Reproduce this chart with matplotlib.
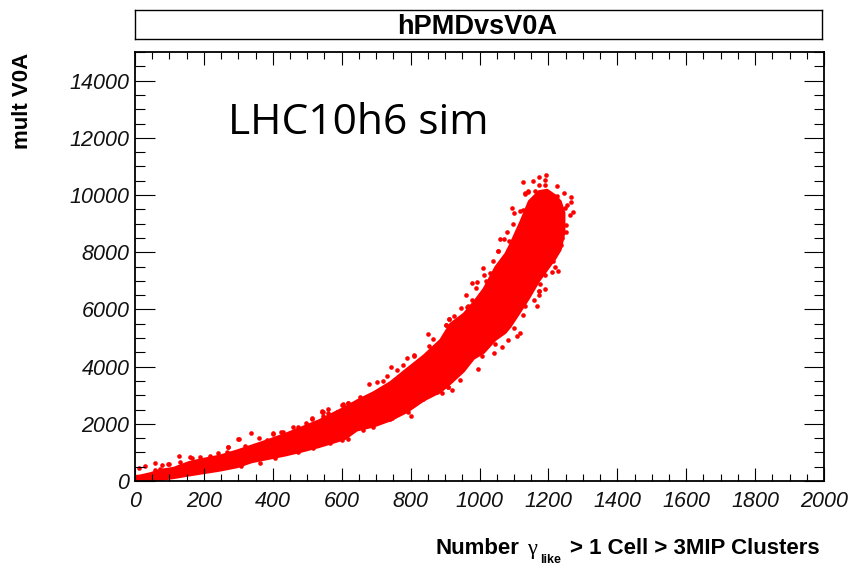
#!/usr/bin/env python3
"""hPMDvsV0A: V0A multiplicity against photon-like PMD clusters"""

import matplotlib
matplotlib.use('Agg')
import matplotlib.pyplot as plt
from matplotlib import font_manager as fm
from matplotlib.font_manager import FontProperties
from matplotlib.ticker import MultipleLocator

plt.rcParams['font.family'] = ['Liberation Sans', 'DejaVu Sans']

# Dense part of the cloud
band_x = [0, 14, 44, 73, 111, 155, 198, 247, 295, 338, 387, 435, 484, 532, 580, 609, 643, 692, 740, 788,
          837, 885, 914, 953, 982, 1011, 1045, 1074, 1088, 1118, 1142, 1171, 1195, 1219, 1234, 1245]
band_low = [0, 0, 30, 58, 120, 210, 292, 385, 500, 677, 793, 910, 1050, 1202, 1377, 1493, 1785, 1925, 2135, 2427,
            2835, 3127, 3418, 3850, 4293, 4500, 4950, 5200, 5402, 5950, 6400, 7000, 7400, 7800, 8100, 8700]
band_high = [190, 210, 292, 408, 478, 677, 793, 910, 1085, 1260, 1458, 1668, 1902, 2135, 2427, 2602, 2835, 3127, 3477, 3943,
             4410, 4950, 5518, 5868, 6277, 6743, 7502, 7968, 8300, 9100, 9800, 10150, 10200, 10000, 9800, 9400]

# Stray points along the edge of the cloud
edge_x = [1194, 1174, 1127, 1154, 1173, 1189, 1224, 1190, 1246, 1267, 1267, 1253, 1248, 1272,
          1263, 1250, 1251, 1239, 1239, 1236, 1224, 1219, 1228, 1209, 1190, 1176, 1190, 1174,
          1174, 1158, 1166, 1127, 1100, 1093, 1100, 1118, 1132, 1142, 1060, 1072, 1087, 1079,
          1096, 1055, 1040, 1009, 1014, 992, 977, 989, 961, 946, 912, 903,
          680, 703, 721, 743, 761, 790, 811, 851, 866, 912, 963, 997, 943, 919, 910, 800, 793,
          692, 745, 561, 542, 605, 619,
          336, 302, 129, 131, 29, 13, 58, 77, 99, 271, 429, 402, 513, 547, 561, 605, 619, 160, 619,
          73, 97, 165, 189, 218, 242, 271, 300, 266, 58, 0,
          360, 382, 401, 425, 459, 474, 495, 514, 543, 546, 585, 602, 319, 406, 474, 517, 566, 600, 363, 309,
          732, 779, 810, 854, 740, 663, 653, 890, 876, 909, 837,
          1020, 1030, 1054, 979, 967, 927, 902, 1119, 1109, 1083, 1064, 1042, 1045, 1006, 1132, 1172,
          1142, 1132, 1161, 1127, 1226, 1238, 1229, 1232, 1214, 1219, 1209, 1214]
edge_y = [10699, 10629, 10454, 10477, 10360, 10349, 10326, 10536, 10080, 9917, 9742, 9660, 9544, 9404,
          9310, 8960, 8715, 8715, 8494, 8260, 8027, 7479, 7327, 7292, 7210, 6895, 6720, 6627,
          6487, 6335, 6102, 5810, 5344, 9544, 9369, 9450, 10069, 10104, 8459, 8459, 8400, 8704,
          8984, 8027, 7700, 7432, 7210, 6965, 6919, 6744, 6510, 6044, 5659, 5460,
          3395, 3453, 3500, 4002, 3885, 4317, 4410, 5133, 4958, 5670, 6078, 3920, 3535, 3185, 3278, 2287, 2427,
          1878, 2193, 2508, 2450, 2660, 2718,
          1668, 1470, 863, 677, 525, 443, 618, 560, 583, 1200, 1727, 1645, 2193, 2427, 2368, 2695, 2718, 828, 1458,
          408, 583, 793, 852, 875, 968, 1178, 1458, 1027, 385, 35,
          1493, 1435, 1668, 1727, 1902, 1902, 2018, 2158, 2427, 2275, 2427, 2660, 1225, 793, 1003, 1143, 1342, 1435, 618, 525,
          3675, 4060, 4387, 4725, 2158, 1785, 2952, 3068, 3127, 3302, 2859,
          6977, 7268, 8027, 6312, 6102, 5752, 5460, 5168, 5087, 4935, 4678, 4468, 4783, 4375, 6102, 6627,
          10127, 10045, 10127, 9485, 9952, 9485, 9135, 8785, 8027, 8552, 7852, 7677]

x_ticks = [0, 200, 400, 600, 800, 1000, 1200, 1400, 1600, 1800, 2000]
y_ticks = [0, 2000, 4000, 6000, 8000, 10000, 12000, 14000]

W, H = 852, 565
fig = plt.figure(figsize=(W / 100, H / 100), dpi=100, facecolor='white')

# title box above the frame
ax_title = fig.add_axes([135 / W, 1 - 39 / H, 687 / W, 29 / H])
ax_title.set_xticks([])
ax_title.set_yticks([])
for s in ax_title.spines.values():
    s.set_linewidth(1.0)
ax_title.text(0.498, 0.40, 'hPMDvsV0A', transform=ax_title.transAxes, ha='center', va='center',
              fontsize=19.5, fontweight='bold')

ax = fig.add_axes([135 / W, 1 - 481 / H, 689 / W, 429 / H])
ax.set_axisbelow(False)
ax.fill_between(band_x, band_low, band_high, color='#ff0000', linewidth=1.5, zorder=1)
ax.scatter(edge_x, edge_y, s=11, c='#ff0000', linewidths=0, zorder=1.5)

ax.set_xlim(0, 2000)
ax.set_ylim(0, 15000)
ax.xaxis.set_minor_locator(MultipleLocator(50))
ax.yaxis.set_minor_locator(MultipleLocator(500))
ax.tick_params(axis='x', which='major', direction='in', length=9.4, width=0.8, top=True, pad=7)
ax.tick_params(axis='x', which='minor', direction='in', length=4.7, width=0.8, top=True)
ax.tick_params(axis='y', which='major', direction='in', length=14.4, width=0.8, right=True, pad=4)
ax.tick_params(axis='y', which='minor', direction='in', length=7.2, width=0.8, right=True)

# take the file of the first family that really ships an italic
italic_files = {f.name: f.fname for f in fm.fontManager.ttflist if f.style == 'italic' and f.weight in (400, 'normal')}
for family in ['Liberation Sans', 'Arimo', 'Roboto', 'Open Sans', 'Noto Sans', 'Work Sans']:
    if family in italic_files:
        tick_font = FontProperties(fname=italic_files[family], size=15.5)
        break
ax.set_xticks(x_ticks, [str(v) for v in x_ticks], fontproperties=tick_font, color='#111111')
ax.set_yticks(y_ticks, [str(v) for v in y_ticks], fontproperties=tick_font, color='#111111')
for s in ax.spines.values():
    s.set_linewidth(1.3)

ax.text(228 / W, 1 - 134 / H, 'LHC10h6 sim', transform=fig.transFigure, fontsize=30.6,
        family='Open Sans', va='baseline', ha='left')

# axis labels are placed by hand, gamma needs its own font
fig.text(23 / W, 1 - 53 / H, 'mult V0A', rotation=90, ha='center', va='top', fontsize=16, fontweight='bold')
fig.text(436 / W, 1 - 554 / H, 'Number', fontsize=16, fontweight='bold', va='baseline')
fig.text(527 / W, 1 - 554 / H, '\u03b3', fontsize=16, family='Liberation Serif', va='baseline')
fig.text(540 / W, 1 - 563 / H, 'like', fontsize=9, fontweight='bold', va='baseline')
fig.text(820 / W, 1 - 554 / H, '> 1 Cell > 3MIP Clusters', fontsize=16, fontweight='bold',
         va='baseline', ha='right')

plt.savefig('out.png', dpi=100, facecolor='white')
plt.close()
